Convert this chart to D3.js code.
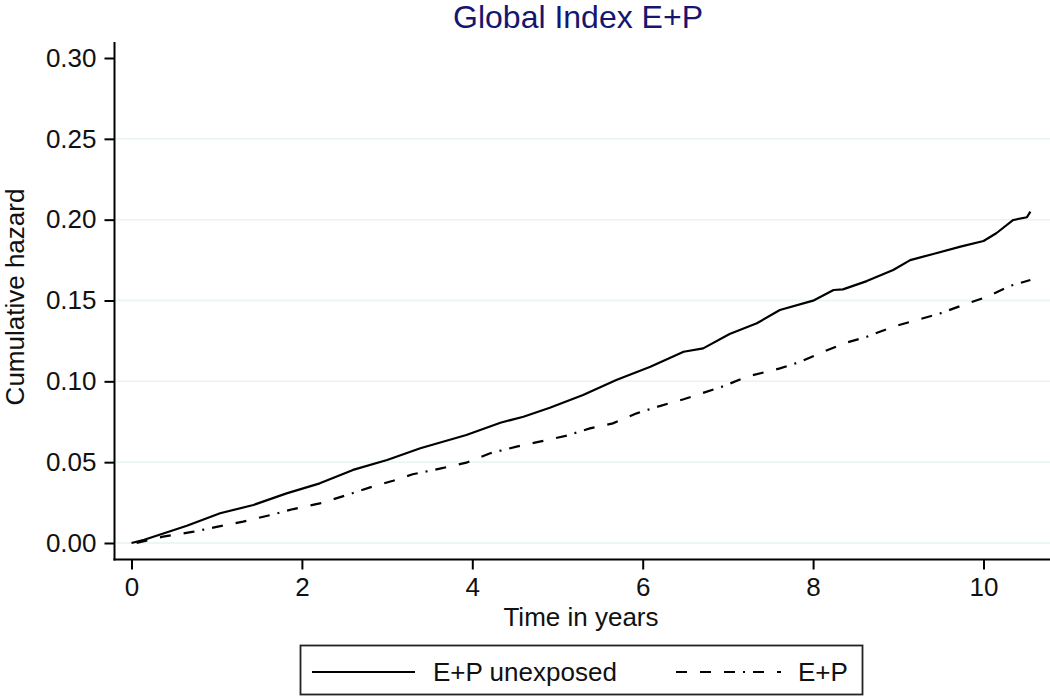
<!DOCTYPE html>
<html>
<head>
<meta charset="utf-8">
<script src="https://cdn.jsdelivr.net/npm/d3@7"></script>
<style>
  html, body { margin: 0; padding: 0; background: #fff; }
  svg { display: block; font-family: Arial, "Liberation Sans", sans-serif; }
</style>
</head>
<body>
<svg id="chart" width="1050" height="696"></svg>
<script>
// ---- data ----
const chartTitle = "Global Index E+P";
const xTitle = "Time in years";
const yTitle = "Cumulative hazard";
const seriesNames = ["E+P unexposed", "E+P"];

const xTicks = [0, 2, 4, 6, 8, 10];
const yTicks = [0, 0.05, 0.10, 0.15, 0.20, 0.25, 0.30];

const timeUnexposed = [0, 0.15, 0.65, 1.04, 1.43, 1.82, 2.21, 2.60, 3.0, 3.39, 3.93, 4.33, 4.60, 4.91, 5.30, 5.69, 6.09, 6.48, 6.71, 7.02, 7.34, 7.61, 8.0, 8.24, 8.35, 8.63, 8.94, 9.14, 9.41, 9.73, 10.0, 10.15, 10.35, 10.51, 10.55];
const hazardUnexposed = [0, 0.002, 0.0107, 0.0184, 0.0235, 0.0307, 0.0369, 0.0452, 0.0513, 0.0586, 0.0668, 0.0744, 0.0781, 0.0837, 0.0915, 0.1008, 0.109, 0.1183, 0.1204, 0.1293, 0.1359, 0.1441, 0.1499, 0.1565, 0.1569, 0.162, 0.1689, 0.175, 0.1788, 0.1833, 0.1868, 0.1916, 0.1998, 0.2015, 0.205];

const timeEP = [0.06, 0.37, 0.73, 1.0, 1.31, 1.63, 1.9, 2.21, 2.53, 2.8, 3.07, 3.30, 3.62, 3.93, 4.21, 4.52, 4.79, 5.11, 5.38, 5.65, 5.93, 6.20, 6.48, 6.63, 6.95, 7.22, 7.61, 7.85, 8.12, 8.39, 8.63, 8.94, 9.25, 9.49, 9.76, 10.04, 10.31, 10.55];
const hazardEP = [0, 0.0039, 0.007, 0.010, 0.0132, 0.0173, 0.021, 0.0245, 0.0297, 0.0344, 0.0385, 0.0425, 0.046, 0.0497, 0.0555, 0.0596, 0.0627, 0.0664, 0.0709, 0.074, 0.0802, 0.0847, 0.0889, 0.0915, 0.097, 0.1029, 0.108, 0.1121, 0.1183, 0.1239, 0.1276, 0.1338, 0.1384, 0.142, 0.1472, 0.1523, 0.159, 0.1627];

// ---- layout ----
const svg = d3.select("#chart");
const axisX = 114.5, axisY = 559.5, plotTop = 42, plotRight = 1050;
const x = d3.scaleLinear().domain([0, 10]).range([131.5, 983.5]);
const y = d3.scaleLinear().domain([0, 0.30]).range([543, 58]);

const fmtY = d3.format(".2f");

// gridlines
svg.append("g").selectAll("line")
  .data(yTicks.filter(d => d < 0.30))
  .join("line")
  .attr("x1", axisX + 2).attr("x2", plotRight)
  .attr("y1", d => y(d)).attr("y2", d => y(d))
  .attr("stroke", "#e6f4f2").attr("stroke-width", 1.5);

// y axis
const yAxis = d3.axisLeft(y).tickValues(yTicks).tickFormat(fmtY).tickSizeOuter(0).tickSize(10).tickPadding(8);
const gy = svg.append("g").attr("transform", `translate(${axisX},0)`).call(yAxis);
gy.select(".domain").remove();
gy.selectAll(".tick line").attr("stroke", "#000").attr("stroke-width", 2);
gy.selectAll(".tick text").attr("font-size", 26).attr("fill", "#111").attr("font-family", "Arial, 'Liberation Sans', sans-serif");
svg.append("line").attr("x1", axisX).attr("x2", axisX).attr("y1", plotTop).attr("y2", axisY + 1)
  .attr("stroke", "#000").attr("stroke-width", 2);

// x axis
const xAxis = d3.axisBottom(x).tickValues(xTicks).tickFormat(d3.format("d")).tickSizeOuter(0).tickSize(10).tickPadding(8);
const gx = svg.append("g").attr("transform", `translate(0,${axisY})`).call(xAxis);
gx.select(".domain").remove();
gx.selectAll(".tick line").attr("stroke", "#000").attr("stroke-width", 2);
gx.selectAll(".tick text").attr("font-size", 26).attr("fill", "#111").attr("font-family", "Arial, 'Liberation Sans', sans-serif");
svg.append("line").attr("x1", axisX - 1).attr("x2", plotRight).attr("y1", axisY).attr("y2", axisY)
  .attr("stroke", "#000").attr("stroke-width", 2);

// series
const line = d3.line().x(d => x(d[0])).y(d => y(d[1]));
const dataU = timeUnexposed.map((t, i) => [t, hazardUnexposed[i]]);
const dataE = timeEP.map((t, i) => [t, hazardEP[i]]);
const dashPattern = "11,13,11,13,11,8,2,8";

svg.append("path").datum(dataU).attr("d", line)
  .attr("fill", "none").attr("stroke", "#000").attr("stroke-width", 2.2).attr("stroke-linejoin", "round");
svg.append("path").datum(dataE).attr("d", line)
  .attr("fill", "none").attr("stroke", "#000").attr("stroke-width", 2.2).attr("stroke-dasharray", dashPattern);

// titles
svg.append("text").attr("x", 578).attr("y", 28).attr("text-anchor", "middle")
  .attr("font-size", 32).attr("fill", "#16166e").text(chartTitle);
svg.append("text").attr("x", 581).attr("y", 626).attr("text-anchor", "middle")
  .attr("font-size", 26).attr("fill", "#111").text(xTitle);
svg.append("text").attr("transform", "translate(24,297) rotate(-90)").attr("text-anchor", "middle")
  .attr("font-size", 26).attr("fill", "#111").text(yTitle);

// legend
const lg = svg.append("g");
lg.append("rect").attr("x", 300.5).attr("y", 645.5).attr("width", 562).attr("height", 49)
  .attr("fill", "#fff").attr("stroke", "#222").attr("stroke-width", 1.8);
lg.append("line").attr("x1", 312).attr("x2", 415).attr("y1", 672).attr("y2", 672)
  .attr("stroke", "#000").attr("stroke-width", 2);
lg.append("text").attr("x", 433).attr("y", 681).attr("font-size", 26).attr("fill", "#111").text(seriesNames[0]);
lg.append("line").attr("x1", 676).attr("x2", 781).attr("y1", 672).attr("y2", 672)
  .attr("stroke", "#000").attr("stroke-width", 2).attr("stroke-dasharray", dashPattern);
lg.append("text").attr("x", 798).attr("y", 681).attr("font-size", 26).attr("fill", "#111").text(seriesNames[1]);
</script>
</body>
</html>
